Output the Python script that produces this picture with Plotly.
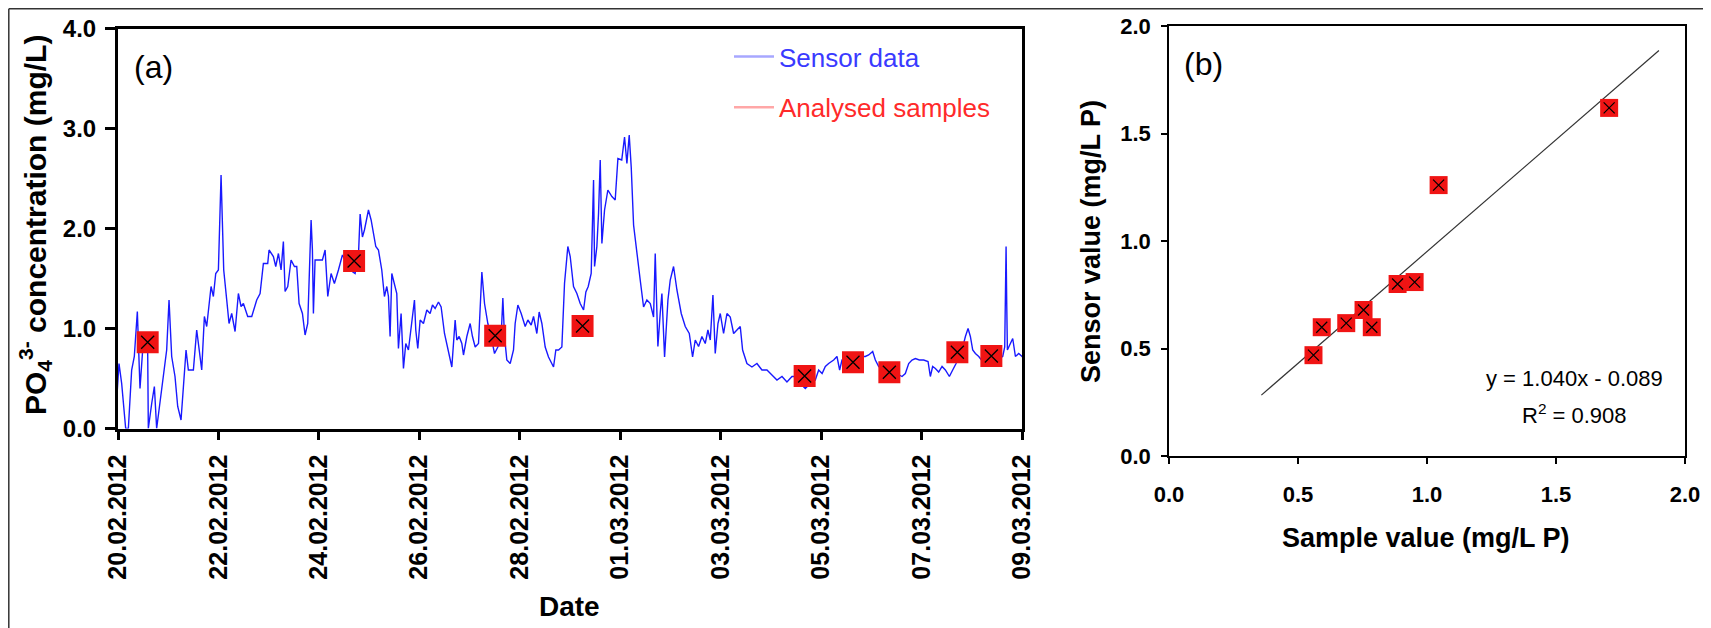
import pandas as pd
import plotly.graph_objects as go

# ---------------- data ----------------
# Sensor record: days since 20.02.2012 00:00 and PO4 concentration (mg/L)
sensor_day = [
    -0.126, -0.093, -0.027, 0.020, 0.073, 0.153, 0.206, 0.272, 0.325, 0.385, 0.438, 0.505,
    0.591, 0.604, 0.671, 0.724, 0.770, 0.837, 0.903, 0.969, 1.016, 1.069, 1.135, 1.189,
    1.255, 1.301, 1.355, 1.401, 1.501, 1.567, 1.600, 1.667, 1.720, 1.766, 1.853, 1.899,
    1.946, 1.999, 2.052, 2.078, 2.105, 2.165, 2.211, 2.264, 2.331, 2.397, 2.450, 2.497,
    2.583, 2.663, 2.762, 2.829, 2.895, 2.981, 3.008, 3.094, 3.141, 3.194, 3.247, 3.293,
    3.327, 3.380, 3.446, 3.513, 3.559, 3.606, 3.672, 3.725, 3.778, 3.825, 3.845, 3.871,
    3.891, 3.924, 3.991, 4.070, 4.124, 4.177, 4.243, 4.309,
    4.389, 4.469, 4.522, 4.622, 4.721, 4.787, 4.821, 4.867, 4.907, 4.953, 4.987, 5.040,
    5.086, 5.133, 5.186, 5.252, 5.305, 5.352, 5.385, 5.418, 5.452, 5.505, 5.551, 5.584,
    5.637, 5.684, 5.730, 5.783, 5.850, 5.903, 5.929, 5.969, 6.016, 6.082, 6.149, 6.215,
    6.262, 6.315, 6.381, 6.434, 6.501, 6.580, 6.647, 6.713, 6.746, 6.793, 6.846, 6.879,
    6.946, 7.012, 7.058, 7.112, 7.178, 7.245, 7.298, 7.364, 7.430, 7.497, 7.563, 7.629,
    7.663, 7.696, 7.742, 7.809, 7.875, 7.908, 7.962, 8.028, 8.108, 8.161, 8.227, 8.274,
    8.340, 8.386, 8.440, 8.506, 8.572, 8.672, 8.718, 8.772, 8.838, 8.891,
    8.957, 9.004, 9.070, 9.137, 9.203, 9.270, 9.316, 9.363, 9.422, 9.469, 9.489, 9.535,
    9.568, 9.602, 9.635, 9.688, 9.754, 9.834, 9.900, 9.954, 10.030, 10.086, 10.133, 10.179,
    10.219, 10.266, 10.332, 10.398, 10.465, 10.531, 10.598, 10.664, 10.697, 10.750, 10.796, 10.830,
    10.883, 10.950, 10.996, 11.062, 11.129, 11.215, 11.295, 11.375, 11.441, 11.494, 11.560, 11.627,
    11.693, 11.746, 11.793, 11.846, 11.892, 11.946, 11.992, 12.058, 12.125, 12.191, 12.258, 12.324,
    12.390, 12.437, 12.523, 12.623, 12.722, 12.822, 12.922, 13.021, 13.121, 13.221, 13.320, 13.420,
    13.486, 13.586, 13.685, 13.785, 13.884, 13.951, 14.020, 14.084, 14.150, 14.250, 14.316, 14.369,
    14.416, 14.515, 14.615, 14.715, 14.814, 14.880, 14.947, 15.027, 15.080, 15.146, 15.246, 15.345,
    15.445, 15.545, 15.611, 15.677, 15.744, 15.810, 15.877, 15.956, 16.042, 16.129, 16.175, 16.221,
    16.275, 16.341, 16.408, 16.474, 16.554, 16.620, 16.687, 16.740, 16.806, 16.873, 16.926, 16.972,
    17.019, 17.072, 17.139, 17.192, 17.258, 17.324, 17.404, 17.470, 17.550, 17.616, 17.656, 17.683,
    17.696, 17.709, 17.769, 17.815, 17.869, 17.935, 18.002, 18.068,
]
sensor_po4 = [
    0.318, 0.41, 0.28, 0.65, 0.45, 0.0, 0.0, 0.585, 0.72, 1.17, 0.40, 0.885,
    0.785, 0.0, 0.25, 0.42, 0.0, 0.25, 0.485, 0.785, 1.285, 0.72, 0.52, 0.22,
    0.085, 0.45, 0.785, 0.585, 0.585, 0.985, 0.85, 0.585, 1.12, 1.02, 1.42, 1.32,
    1.55, 1.585, 2.535, 1.95, 1.585, 1.285, 1.05, 1.15, 0.97, 1.35, 1.22, 1.25,
    1.12, 1.12, 1.285, 1.35, 1.65, 1.65, 1.785, 1.72, 1.62, 1.75, 1.585, 1.87,
    1.37, 1.42, 1.685, 1.62, 1.62, 1.25, 1.15, 0.935, 1.05, 1.785, 2.085, 1.785,
    1.15, 1.685, 1.685, 1.685, 1.785, 1.32, 1.55, 1.45,
    1.585, 1.735, 1.685, 1.585, 1.55, 1.72, 2.145, 1.915, 1.985, 2.12, 2.185, 2.085,
    1.95, 1.82, 1.785, 1.585, 1.32, 1.42, 1.32, 0.92, 1.55, 1.45, 1.35, 0.80,
    1.15, 0.60, 0.85, 0.785, 1.085, 1.285, 0.985, 0.80, 1.085, 1.05, 1.185, 1.15,
    1.235, 1.20, 1.265, 1.215, 0.95, 0.75, 0.615, 1.085, 0.885, 0.92, 0.85, 0.735,
    0.92, 1.05, 0.92, 0.815, 0.85, 1.565, 1.25, 1.05, 0.92, 0.75, 0.815, 0.92,
    1.305, 0.92, 0.685, 0.65, 0.785, 1.05, 1.235, 1.15, 1.02, 1.085, 1.035, 1.12,
    0.95, 1.165, 1.05, 0.815, 0.715, 0.615, 0.785, 0.785, 0.815, 1.452,
    1.82, 1.72, 1.42, 1.35, 1.25, 1.185, 1.365, 1.42, 1.55, 2.485, 1.62, 1.82,
    2.15, 2.685, 1.85, 2.185, 2.385, 2.32, 2.285, 2.70, 2.685, 2.915, 2.65, 2.935,
    2.615, 2.035, 1.785, 1.485, 1.215, 1.285, 1.25, 1.115, 1.75, 0.82, 1.15, 1.35,
    0.715, 1.285, 1.485, 1.62, 1.385, 1.15, 1.02, 0.95, 0.715, 0.885, 0.82, 0.92,
    0.85, 0.985, 0.885, 1.335, 0.75, 1.05, 1.15, 0.95, 1.15, 1.115, 0.95, 0.985,
    1.02, 0.785, 0.65, 0.615, 0.65, 0.585, 0.585, 0.535, 0.485, 0.52, 0.465, 0.52,
    0.52, 0.45, 0.40, 0.45, 0.485, 0.585, 0.55, 0.62, 0.65, 0.685, 0.72, 0.585,
    0.685, 0.72, 0.685, 0.65, 0.72, 0.72, 0.735, 0.77, 0.685, 0.62, 0.585, 0.55,
    0.565, 0.535, 0.52, 0.55, 0.65, 0.685, 0.70, 0.685, 0.685, 0.67, 0.52, 0.62,
    0.60, 0.565, 0.62, 0.585, 0.52, 0.585, 0.65, 0.75, 0.785, 0.92, 1.00, 0.92,
    0.785, 0.75, 0.72, 0.685, 0.75, 0.685, 0.65, 0.685, 0.70, 0.72, 0.815, 1.82,
    1.25, 0.785, 0.85, 0.90, 0.72, 0.75, 0.72, 0.685,
]

# Analysed samples in panel (a)
sample_day = [0.591, 4.701, 7.510, 9.250, 13.672, 14.635, 15.359, 16.713, 17.390]
sample_po4 = [0.862, 1.675, 0.928, 1.025, 0.525, 0.662, 0.562, 0.762, 0.725]

# Panel (b): sample value vs sensor value (mg/L P)
sample_p = [0.560, 0.592, 0.687, 0.754, 0.786, 0.886, 0.952, 1.045, 1.706]
sensor_p = [0.469, 0.599, 0.618, 0.679, 0.599, 0.800, 0.809, 1.260, 1.619]

# Regression
slope = 1.040
intercept = -0.089
r2 = 0.908
fit_x = [0.358, 1.899]

start = pd.Timestamp("2012-02-20")
end = pd.Timestamp("2012-03-09")
date_tick_days = 2

# ---------------- figure ----------------
# The page body has an 8 px margin, so the figure is drawn 8 px in from the
# window's top-left corner; size it to reach the window's right/bottom edges.
OFF = 8
W, H = 1711 - OFF, 628 - OFF
FONT = "Arial, Liberation Sans, sans-serif"

def px_x(p):
    return (p - OFF) / W

def px_y(p):
    return 1 - (p - OFF) / H

sensor_t = start + pd.to_timedelta(sensor_day, unit="D")
sample_t = start + pd.to_timedelta(sample_day, unit="D")
fit_y = [slope * v + intercept for v in fit_x]

RED = "#F01414"
fig = go.Figure()

fig.add_trace(go.Scatter(x=sensor_t, y=sensor_po4, mode="lines",
                         line=dict(color="rgb(25,25,255)", width=1.4),
                         showlegend=False, xaxis="x", yaxis="y"))
fig.add_trace(go.Scatter(x=sample_t, y=sample_po4, mode="markers",
                         marker=dict(symbol="square", size=22, color=RED, line=dict(width=0)),
                         showlegend=False, xaxis="x", yaxis="y"))
fig.add_trace(go.Scatter(x=sample_t, y=sample_po4, mode="markers",
                         marker=dict(symbol="x-thin", size=13, color="black",
                                     line=dict(width=1.3, color="black")),
                         showlegend=False, xaxis="x", yaxis="y"))

# legend entries
fig.add_trace(go.Scatter(x=[None], y=[None], mode="lines", legendgroup="s",
                         line=dict(color="rgba(60,60,255,0.45)", width=2.5),
                         name="<span style='color:#3a3aff'>Sensor data</span>",
                         xaxis="x", yaxis="y"))
fig.add_trace(go.Scatter(x=[None], y=[None], mode="lines", legendgroup="a",
                         line=dict(color="rgba(255,60,60,0.45)", width=2.5),
                         name="<span style='color:#ff2a2a'>Analysed samples</span>",
                         xaxis="x", yaxis="y"))

# panel b
fig.add_trace(go.Scatter(x=fit_x, y=fit_y, mode="lines",
                         line=dict(color="#333333", width=1.2),
                         showlegend=False, xaxis="x2", yaxis="y2"))
fig.add_trace(go.Scatter(x=sample_p, y=sensor_p, mode="markers",
                         marker=dict(symbol="square", size=18, color=RED, line=dict(width=0)),
                         showlegend=False, xaxis="x2", yaxis="y2"))
fig.add_trace(go.Scatter(x=sample_p, y=sensor_p, mode="markers",
                         marker=dict(symbol="x-thin", size=11, color="black",
                                     line=dict(width=1.2, color="black")),
                         showlegend=False, xaxis="x2", yaxis="y2"))

bold = dict(family=FONT, size=24, color="black", weight="bold")

fig.update_layout(
    template="none",
    width=W, height=H,
    margin=dict(l=0, r=0, t=0, b=0, pad=0),
    paper_bgcolor="white", plot_bgcolor="white",
    font=dict(family=FONT, color="black"),
    xaxis=dict(domain=[px_x(118), px_x(1022)], anchor="y", type="date", automargin=False,
               range=[start, end], tick0=start, dtick=date_tick_days * 86400000,
               tickformat="%d.%m.%Y", tickangle=-90,
               ticks="outside", ticklen=8, tickwidth=3, tickcolor="black",
               linewidth=3, linecolor="black", mirror=True,
               showgrid=False, zeroline=False, ticklabelstandoff=5,
               tickfont=dict(family=FONT, size=25, color="black", weight="bold")),
    yaxis=dict(domain=[px_y(428.5), px_y(28.5)], anchor="x", automargin=False,
               range=[0, 4], dtick=1, tickformat=".1f",
               ticks="outside", ticklen=10, tickwidth=3, tickcolor="black",
               linewidth=3, linecolor="black", mirror=True,
               showgrid=False, zeroline=False, ticklabelstandoff=4,
               tickfont=bold),
    xaxis2=dict(domain=[px_x(1169), px_x(1685)], anchor="y2", automargin=False,
                range=[0, 2], dtick=0.5, tickformat=".1f",
                ticks="outside", ticklen=6, tickwidth=1.5, tickcolor="black",
                linewidth=1.5, linecolor="black", mirror=True,
                showgrid=False, zeroline=False, ticklabelstandoff=12,
                tickfont=dict(family=FONT, size=22, color="black", weight="bold")),
    yaxis2=dict(domain=[px_y(456), px_y(26)], anchor="x2", automargin=False,
                range=[0, 2], dtick=0.5, tickformat=".1f",
                ticks="outside", ticklen=6, tickwidth=1.5, tickcolor="black",
                linewidth=1.5, linecolor="black", mirror=True,
                showgrid=False, zeroline=False, ticklabelstandoff=6,
                tickfont=dict(family=FONT, size=22, color="black", weight="bold")),
    legend=dict(x=px_x(729), y=px_y(33), xanchor="left", yanchor="top",
                bgcolor="rgba(0,0,0,0)", tracegroupgap=14, itemwidth=40,
                font=dict(family=FONT, size=26)),
    showlegend=True,
)

title_font = dict(family=FONT, color="black", weight="bold")
# axis titles
fig.add_annotation(text="PO<sub>4</sub><sup>3-</sup> concentration (mg/L)", xref="paper", yref="paper",
                   x=px_x(35), y=px_y(225), textangle=-90, showarrow=False,
                   xanchor="center", yanchor="middle", font=dict(size=30, **title_font))
fig.add_annotation(text="Date", xref="paper", yref="paper",
                   x=px_x(569), y=px_y(606), showarrow=False, borderpad=0,
                   xanchor="center", yanchor="middle", font=dict(size=28, **title_font))
fig.add_annotation(text="Sample value (mg/L P)", xref="paper", yref="paper",
                   x=px_x(1426), y=px_y(538), showarrow=False,
                   xanchor="center", yanchor="middle", font=dict(size=27, **title_font))
fig.add_annotation(text="Sensor value (mg/L P)", xref="paper", yref="paper",
                   x=px_x(1091), y=px_y(242), textangle=-90, showarrow=False,
                   xanchor="center", yanchor="middle", font=dict(size=27, **title_font))

fig.add_annotation(text="(a)", xref="x domain", yref="y domain", x=0.015, y=0.904,
                   xanchor="left", yanchor="middle", showarrow=False,
                   font=dict(family=FONT, size=32, color="black"))
fig.add_annotation(text="(b)", xref="x2 domain", yref="y2 domain", x=0.025, y=0.912,
                   xanchor="left", yanchor="middle", showarrow=False,
                   font=dict(family=FONT, size=32, color="black"))
fig.add_annotation(text=f"y = {slope:.3f}x - {abs(intercept):.3f}", xref="x2 domain", yref="y2 domain",
                   x=0.785, y=0.181, xanchor="center", yanchor="middle", showarrow=False,
                   font=dict(family=FONT, size=22, color="black"))
fig.add_annotation(text=f"R<sup>2</sup> = {r2:.3f}", xref="x2 domain", yref="y2 domain",
                   x=0.785, y=0.098, xanchor="center", yanchor="middle", showarrow=False,
                   font=dict(family=FONT, size=22, color="black"))

# page frame of the scanned figure (top, left and right edges)
frame = dict(color="#333333", width=1.5)
fig.add_shape(type="line", xref="paper", yref="paper",
              x0=px_x(8.8), x1=px_x(1709), y0=px_y(8.8), y1=px_y(8.8), line=frame, layer="below")
fig.add_shape(type="line", xref="paper", yref="paper",
              x0=px_x(8.8), x1=px_x(8.8), y0=0, y1=px_y(8.8), line=frame, layer="below")
fig.add_shape(type="line", xref="paper", yref="paper",
              x0=px_x(1709), x1=px_x(1709), y0=0, y1=px_y(8.8), line=frame, layer="below")

fig.write_html("out.html")
